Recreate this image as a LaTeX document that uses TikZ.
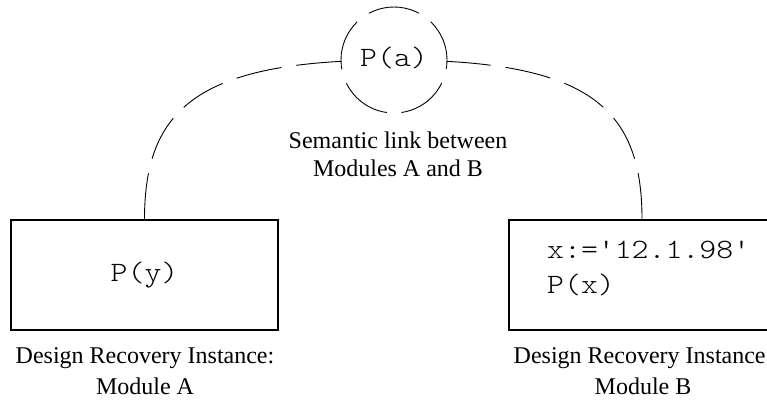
\documentclass[tikz,border=0pt]{standalone}
\usepackage{fontspec}
\setmainfont{Liberation Serif}
\setmonofont{lmmonolt10-regular.otf}[FakeStretch=1.15]
\begin{document}
\begin{tikzpicture}[x=1pt,y=-1pt,
  module/.style={draw, line width=2pt, minimum width=267pt, minimum height=110pt, inner sep=0pt},
  code/.style={font=\fontsize{28}{35}\selectfont\ttfamily, inner sep=0pt},
  caption/.style={font=\fontsize{24}{31}\selectfont, align=center, anchor=base, inner sep=0pt},
  link/.style={line width=0.9pt, dash pattern=on 46pt off 15pt},
  linkcircle/.style={circle, draw, fill=white, line width=0.9pt, minimum size=106pt,
    inner sep=0pt, dash pattern=on 52pt off 14.6pt, dash phase=9.25pt}]
\useasboundingbox (0,0) rectangle (767,400);

% the two module boxes
\node[module, code] (boxA) at (144.5,275) {\raisebox{5pt}{P(y)}};
\node[module] (boxB) at (642,275) {};
% multi-line nodes sit on the baseline of their last line
\node[code, align=left, anchor=base west] (codeB) at (547,293) {x:='12.1.98'\\P(x)};

% captions
\node[caption] (capA) at (145,394) {Design Recovery Instance:\\Module A};
\node[caption] (capB) at (643,394) {Design Recovery Instance:\\Module B};

% semantic link arcs, meeting under the shared procedure
\coordinate (apex) at (394,60);
\draw[link] (boxA.north) .. controls +(0,-115) and +(-190,0) .. (apex);
\draw[link] (boxB.north) .. controls +(0,-115) and +(190,0) .. (apex);
\node[linkcircle, code] (circ) at (apex) {\raisebox{6pt}{P(a)}};

\node[caption, font=\fontsize{24}{28}\selectfont] (linklabel) at (398,176)
  {Semantic link between\\Modules A and B};
\end{tikzpicture}
\end{document}
